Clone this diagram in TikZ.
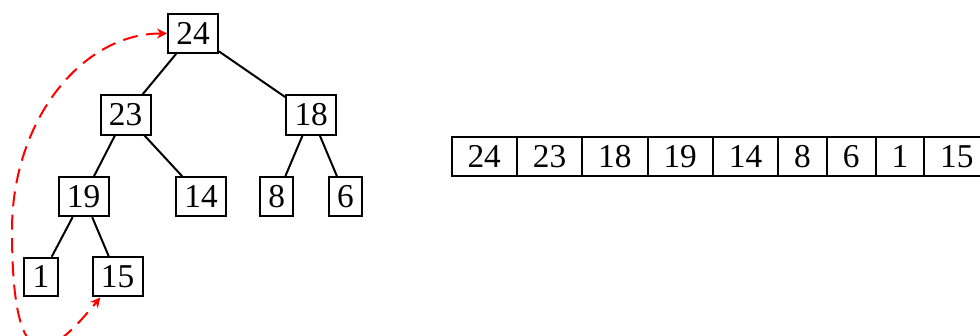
\documentclass[tikz,border=0pt]{standalone}
\usepackage{fontspec}
\setmainfont{Liberation Serif}
\usetikzlibrary{arrows.meta}
\begin{document}
\begin{tikzpicture}[x=0.3pt,y=-0.3pt,
  key/.style={draw,line width=0.6pt,inner sep=2.5pt},
  cell/.style={draw,line width=0.6pt,inner xsep=4.8pt,inner ysep=2.5pt,outer sep=0pt,anchor=west},
  link/.style={line width=0.6pt},
  swap/.style={red,line width=0.6pt,dash pattern=on 4.5pt off 2.5pt,
    {Stealth[length=3pt,width=3pt]}-{Stealth[length=3pt,width=3pt]}}]
\useasboundingbox (0,0) rectangle (980,336);

% heap as a tree
\node[key] (n24) at (193,33.5) {24};
\node[key] (n23) at (125.5,115) {23};
\node[key] (n18) at (311.2,115) {18};
\node[key] (n19) at (83.5,196.6) {19};
\node[key] (n14) at (201,196.6) {14};
\node[key] (n8)  at (276.7,196.6) {8};
\node[key] (n6)  at (345.5,196.6) {6};
\node[key] (n1)  at (41,277) {1};
\node[key] (n15) at (117.5,277) {15};

\draw[link] (n24) -- (n23);
\draw[link] (n24) -- (n18);
\draw[link] (n23) -- (n19);
\draw[link] (n23) -- (n14);
\draw[link] (n18) -- (n8);
\draw[link] (n18) -- (n6);
\draw[link] (n19) -- (n1);
\draw[link] (n19) -- (n15);

% exchange of the root with the last leaf
\coordinate (bend) at (12,230);
\draw[swap] (n24.west) .. controls +(-86,0) and +(0,-108.5) .. (bend)
  .. controls +(0,160) and +(-48,58) .. (n15.230);

% heap as an array
\node[cell] (a1) at (451.5,156.2) {24};
\node[cell] (a2) at (a1.east) {23};
\node[cell] (a3) at (a2.east) {18};
\node[cell] (a4) at (a3.east) {19};
\node[cell] (a5) at (a4.east) {14};
\node[cell] (a6) at (a5.east) {8};
\node[cell] (a7) at (a6.east) {6};
\node[cell] (a8) at (a7.east) {1};
\node[cell] (a9) at (a8.east) {15};
\end{tikzpicture}
\end{document}
